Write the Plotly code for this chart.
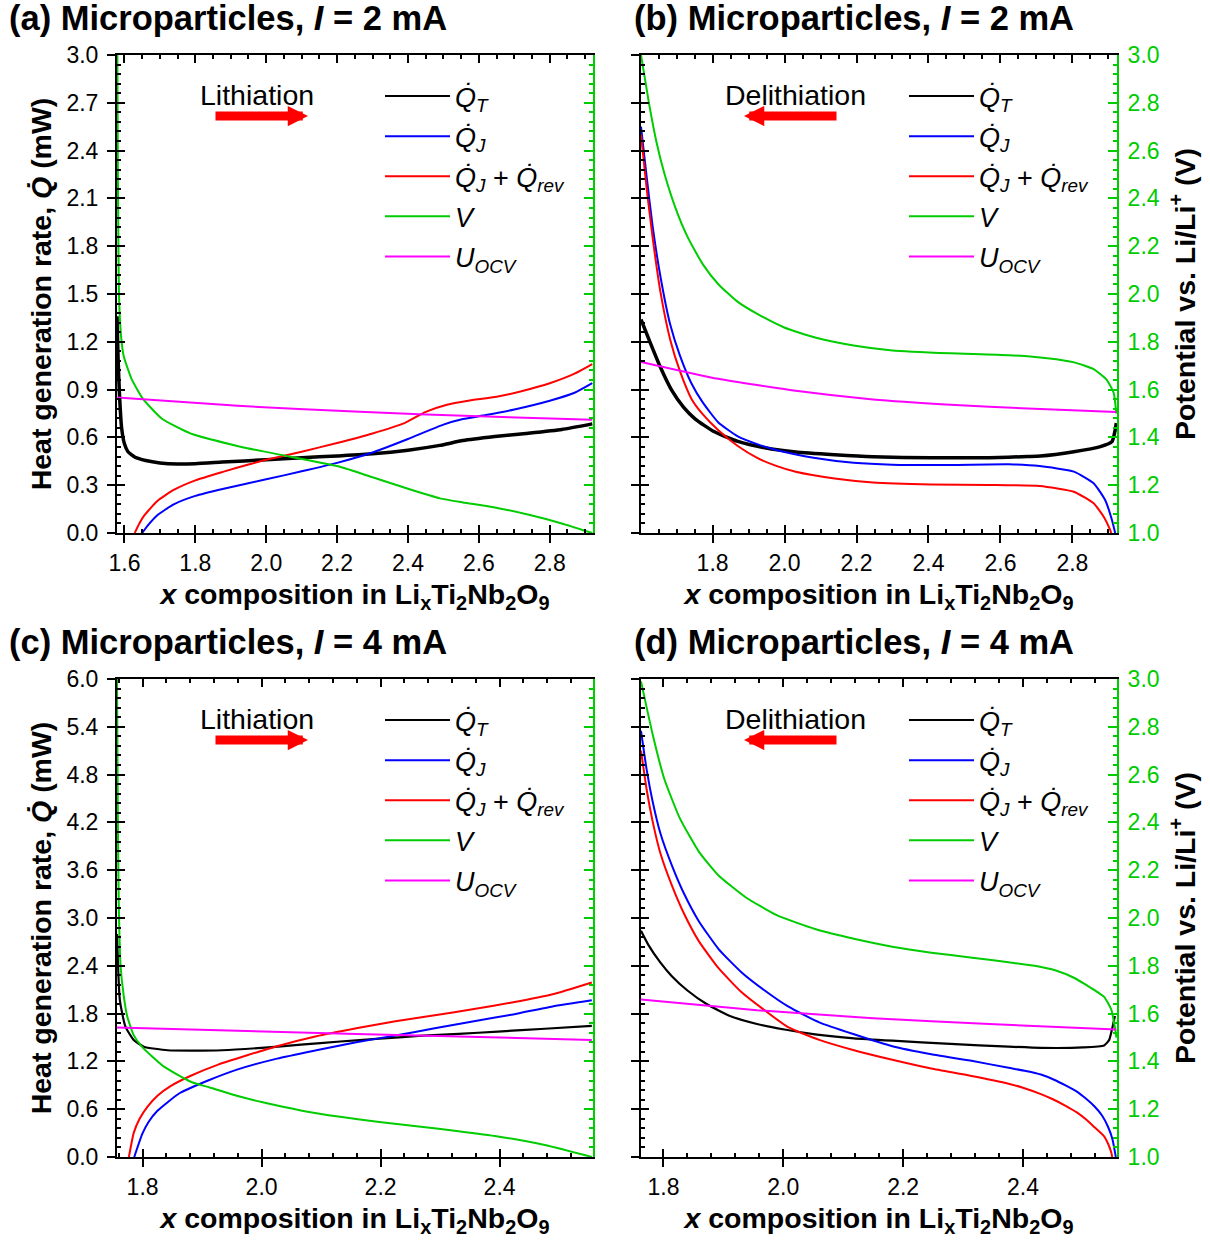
import plotly.graph_objects as go

FONT = "Liberation Sans, Arial, sans-serif"
GREEN = "#00cc00"
W, H = 1210, 1243

# ---------------- panel (a): lithiation, I = 2 mA ----------------
a_x_qt = [1.579, 1.582, 1.586, 1.592, 1.600, 1.610, 1.630, 1.660, 1.700, 1.750, 1.800, 1.876,
          2.000, 2.100, 2.200, 2.300, 2.400, 2.490, 2.555, 2.645, 2.733, 2.834, 2.920]
a_qt = [1.36, 1.10, 0.87, 0.66, 0.56, 0.51, 0.475, 0.455, 0.44, 0.433, 0.435, 0.445,
        0.46, 0.472, 0.484, 0.497, 0.52, 0.55, 0.58, 0.605, 0.625, 0.65, 0.685]
a_x_qj = [1.650, 1.665, 1.692, 1.739, 1.800, 1.880, 2.000, 2.100, 2.200, 2.300, 2.400, 2.500,
          2.555, 2.620, 2.700, 2.800, 2.870, 2.920]
a_qj = [0.0, 0.045, 0.11, 0.18, 0.233, 0.278, 0.337, 0.387, 0.44, 0.505, 0.59, 0.68,
        0.715, 0.74, 0.775, 0.83, 0.88, 0.94]
a_x_qr = [1.629, 1.642, 1.656, 1.692, 1.739, 1.800, 1.880, 1.950, 2.000, 2.100, 2.200, 2.300,
          2.390, 2.450, 2.510, 2.570, 2.650, 2.720, 2.800, 2.870, 2.920]
a_qr = [0.0, 0.06, 0.11, 0.20, 0.27, 0.33, 0.385, 0.43, 0.46, 0.51, 0.565, 0.625,
        0.69, 0.76, 0.805, 0.83, 0.855, 0.89, 0.94, 1.0, 1.06]
a_x_v = [1.580, 1.5815, 1.583, 1.5845, 1.587, 1.592, 1.598, 1.620, 1.653, 1.706, 1.786, 1.927,
         2.068, 2.208, 2.300, 2.400, 2.490, 2.555, 2.645, 2.744, 2.834, 2.920]
a_v = [3.0, 2.5, 2.2, 2.0, 1.9, 1.8, 1.74, 1.645, 1.56, 1.478, 1.417, 1.361,
       1.319, 1.277, 1.233, 1.185, 1.145, 1.128, 1.107, 1.075, 1.04, 1.0]
a_x_u = [1.580, 1.920, 2.264, 2.600, 2.920]
a_u = [1.567, 1.532, 1.507, 1.488, 1.474]

# ---------------- panel (b): delithiation, I = 2 mA ----------------
b_x_qt = [1.601, 1.623, 1.655, 1.687, 1.719, 1.752, 1.805, 1.870, 1.945, 2.031, 2.139, 2.246,
          2.408, 2.569, 2.676, 2.711, 2.804, 2.878, 2.910, 2.919, 2.922]
b_qt = [1.34, 1.215, 1.04, 0.893, 0.79, 0.715, 0.635, 0.575, 0.535, 0.508, 0.491, 0.478,
        0.472, 0.472, 0.48, 0.483, 0.51, 0.542, 0.573, 0.647, 0.69]
b_x_qj = [1.601, 1.617, 1.633, 1.655, 1.682, 1.709, 1.741, 1.773, 1.816, 1.870, 1.924, 1.977,
          2.085, 2.192, 2.300, 2.461, 2.623, 2.709, 2.804, 2.859, 2.891, 2.910, 2.919]
b_qj = [2.55, 2.23, 1.93, 1.61, 1.31, 1.115, 0.94, 0.818, 0.694, 0.607, 0.558, 0.521,
        0.471, 0.441, 0.429, 0.427, 0.431, 0.42, 0.385, 0.312, 0.207, 0.082, 0.0]
b_x_qr = [1.601, 1.617, 1.633, 1.655, 1.682, 1.709, 1.741, 1.773, 1.816, 1.870, 1.924, 1.977,
          2.031, 2.139, 2.246, 2.408, 2.569, 2.709, 2.804, 2.859, 2.887, 2.905, 2.908]
b_qr = [2.50, 2.157, 1.86, 1.513, 1.215, 1.017, 0.843, 0.744, 0.645, 0.546, 0.471, 0.421,
        0.384, 0.342, 0.317, 0.305, 0.302, 0.295, 0.259, 0.186, 0.102, 0.019, 0.0]
b_x_v = [1.601, 1.623, 1.644, 1.666, 1.698, 1.730, 1.773, 1.816, 1.870, 1.924, 1.999, 2.085,
         2.192, 2.300, 2.461, 2.623, 2.730, 2.805, 2.859, 2.896, 2.915, 2.922]
b_v = [3.0, 2.80, 2.636, 2.504, 2.355, 2.24, 2.124, 2.041, 1.967, 1.917, 1.86, 1.818,
       1.785, 1.764, 1.752, 1.744, 1.731, 1.714, 1.686, 1.64, 1.585, 1.50]
b_x_u = [1.601, 1.816, 2.031, 2.246, 2.461, 2.676, 2.922]
b_u = [1.716, 1.645, 1.595, 1.559, 1.537, 1.521, 1.506]

# ---------------- panel (c): lithiation, I = 4 mA ----------------
c_x_qt = [1.757, 1.7618, 1.771, 1.785, 1.802, 1.842, 1.881, 1.934, 2.000, 2.066, 2.132, 2.198,
          2.264, 2.331, 2.397, 2.476, 2.555]
c_qt = [2.8, 1.97, 1.64, 1.47, 1.385, 1.34, 1.335, 1.34, 1.37, 1.41, 1.45, 1.485,
        1.52, 1.545, 1.575, 1.61, 1.645]
c_x_qj = [1.786, 1.7995, 1.810, 1.825, 1.862, 1.910, 1.960, 2.026, 2.092, 2.159, 2.225, 2.291,
          2.357, 2.423, 2.489, 2.555]
c_qj = [0.0, 0.29, 0.44, 0.58, 0.80, 0.96, 1.10, 1.235, 1.34, 1.44, 1.525, 1.615,
        1.705, 1.79, 1.89, 1.967]
c_x_qr = [1.777, 1.785, 1.795, 1.808, 1.825, 1.847, 1.881, 1.927, 1.973, 2.026, 2.092, 2.159,
          2.225, 2.291, 2.357, 2.423, 2.489, 2.555]
c_qr = [0.0, 0.30, 0.48, 0.63, 0.77, 0.89, 1.02, 1.16, 1.27, 1.39, 1.515, 1.615,
        1.705, 1.778, 1.858, 1.942, 2.042, 2.191]
c_x_v = [1.757, 1.7585, 1.760, 1.763, 1.768, 1.774, 1.785, 1.7995, 1.836, 1.881, 1.914, 1.960,
         2.000, 2.066, 2.132, 2.198, 2.264, 2.331, 2.397, 2.476, 2.555]
c_v = [3.0, 2.4, 2.05, 1.80, 1.68, 1.59, 1.51, 1.46, 1.378, 1.315, 1.29, 1.255,
       1.23, 1.195, 1.168, 1.146, 1.128, 1.108, 1.086, 1.05, 1.0]
c_x_u = [1.757, 2.159, 2.555]
c_u = [1.542, 1.515, 1.49]

# ---------------- panel (d): delithiation, I = 4 mA ----------------
d_x_qt = [1.7625, 1.775, 1.795, 1.814, 1.840, 1.872, 1.911, 1.956, 2.002, 2.053, 2.118, 2.182,
          2.279, 2.376, 2.430, 2.500, 2.5355, 2.544, 2.5495, 2.5535]
d_qt = [2.84, 2.66, 2.44, 2.27, 2.09, 1.92, 1.77, 1.67, 1.60, 1.54, 1.49, 1.46,
        1.42, 1.385, 1.37, 1.375, 1.40, 1.47, 1.63, 1.77]
d_x_qj = [1.7625, 1.772, 1.782, 1.795, 1.814, 1.834, 1.859, 1.892, 1.930, 1.969, 2.008, 2.060,
          2.118, 2.182, 2.247, 2.312, 2.376, 2.405, 2.430, 2.452, 2.472, 2.490, 2.5055, 2.520,
          2.532, 2.542, 2.5495, 2.555]
d_qj = [5.35, 4.86, 4.46, 4.06, 3.66, 3.31, 2.96, 2.61, 2.32, 2.09, 1.89, 1.69,
        1.54, 1.39, 1.29, 1.21, 1.12, 1.08, 1.035, 0.97, 0.895, 0.82, 0.73, 0.63,
        0.52, 0.38, 0.22, 0.0]
d_x_qr = [1.7625, 1.772, 1.782, 1.795, 1.814, 1.834, 1.859, 1.892, 1.930, 1.969, 2.008, 2.060,
          2.118, 2.182, 2.247, 2.312, 2.376, 2.400, 2.430, 2.450, 2.472, 2.490, 2.5055, 2.520,
          2.5355, 2.5425, 2.5477, 2.549]
d_qr = [5.1, 4.61, 4.21, 3.81, 3.41, 3.06, 2.71, 2.37, 2.07, 1.84, 1.63, 1.47,
        1.34, 1.22, 1.11, 1.02, 0.92, 0.87, 0.79, 0.725, 0.64, 0.56, 0.47, 0.37,
        0.26, 0.16, 0.05, 0.0]
d_x_v = [1.7625, 1.782, 1.801, 1.827, 1.859, 1.892, 1.937, 1.989, 2.053, 2.118, 2.182, 2.247,
         2.312, 2.376, 2.420, 2.455, 2.485, 2.5055, 2.5355, 2.5477, 2.5533, 2.556]
d_v = [2.99, 2.768, 2.585, 2.419, 2.278, 2.178, 2.087, 2.012, 1.954, 1.913, 1.88, 1.855,
       1.835, 1.815, 1.80, 1.78, 1.75, 1.72, 1.67, 1.615, 1.545, 1.50]
d_x_u = [1.7625, 1.956, 2.150, 2.344, 2.556]
d_u = [1.659, 1.614, 1.581, 1.556, 1.533]

series_labels = [
    "<i>Q\u0307</i><sub><i>T</i></sub>",
    "<i>Q\u0307</i><sub><i>J</i></sub>",
    "<i>Q\u0307</i><sub><i>J</i></sub> + <i>Q\u0307</i><sub><i>rev</i></sub>",
    "<i>V</i>",
    "<i>U</i><sub><i>OCV</i></sub>",
]
series_colors = ["#000000", "#0000ff", "#ff0000", GREEN, "#ff00ff"]
x_title = "<b><i>x</i> composition in Li<sub>x</sub>Ti<sub>2</sub>Nb<sub>2</sub>O<sub>9</sub></b>"
q_title = "<b>Heat generation rate, <i>Q\u0307</i> (mW)</b>"
v_title = "<b>Potential vs. Li/Li<sup>+</sup> (V)</b>"

panels = [
    dict(tag="(a)", cur="2", xr=[1.579, 2.922], qmax=3.0, qdt=0.3, qminor=0.06, xminor=0.05,
         col=0, row=0, dirn="Lithiation", lith=True, qtw=3.5,
         data=[(a_x_qt, a_qt), (a_x_qj, a_qj), (a_x_qr, a_qr), (a_x_v, a_v), (a_x_u, a_u)]),
    dict(tag="(b)", cur="2", xr=[1.601, 2.924], qmax=3.0, qdt=0.3, qminor=0.06, xminor=0.05,
         col=1, row=0, dirn="Delithiation", lith=False, qtw=3.5,
         data=[(b_x_qt, b_qt), (b_x_qj, b_qj), (b_x_qr, b_qr), (b_x_v, b_v), (b_x_u, b_u)]),
    dict(tag="(c)", cur="4", xr=[1.757, 2.557], qmax=6.0, qdt=0.6, qminor=0.12, xminor=0.04,
         col=0, row=1, dirn="Lithiation", lith=True, qtw=2.2,
         data=[(c_x_qt, c_qt), (c_x_qj, c_qj), (c_x_qr, c_qr), (c_x_v, c_v), (c_x_u, c_u)]),
    dict(tag="(d)", cur="4", xr=[1.7625, 2.557], qmax=6.0, qdt=0.6, qminor=0.12, xminor=0.04,
         col=1, row=1, dirn="Delithiation", lith=False, qtw=2.2,
         data=[(d_x_qt, d_qt), (d_x_qj, d_qj), (d_x_qr, d_qr), (d_x_v, d_v), (d_x_u, d_u)]),
]

col_dom = [[117 / W, 593 / W], [641 / W, 1117 / W]]
row_dom = [[1 - 533 / H, 1 - 55 / H], [1 - 1157 / H, 1 - 679 / H]]
row_off = [0, 624]


def nm(kind, n):
    return f"{kind}axis" if n == 1 else f"{kind}axis{n}"


def rf(kind, n):
    return kind if n == 1 else f"{kind}{n}"


fig = go.Figure()
layout = dict(width=W, height=H, margin=dict(l=0, r=0, t=0, b=0, autoexpand=False),
              template="none", plot_bgcolor="white", paper_bgcolor="white",
              font=dict(family=FONT, size=23, color="black"), annotations=[])

tickfont = dict(family=FONT, size=23, color="black")

for i, p in enumerate(panels):
    xm, xo = 2 * i + 1, 2 * i + 2
    yq, yqo, yv = 3 * i + 1, 3 * i + 2, 3 * i + 3
    c, r = p["col"], p["row"]
    left_lab = c == 0
    leg = "legend" if i == 0 else f"legend{i + 1}"

    for k, ((xs, ys), lab, colr) in enumerate(zip(p["data"], series_labels, series_colors)):
        on_v = k >= 3
        xa, ya = rf("x", xm), rf("y", yv if on_v else yq)
        # the data curve
        fig.add_trace(go.Scatter(
            x=xs, y=ys, mode="lines", showlegend=False,
            line=dict(color=colr, width=p["qtw"] if k == 0 else 2, shape="spline", smoothing=0.5),
            xaxis=xa, yaxis=ya, hoverinfo="skip"))
        # legend entry (thin line, no data)
        fig.add_trace(go.Scatter(
            x=[None], y=[None], mode="lines", name=lab, line=dict(color=colr, width=2),
            xaxis=xa, yaxis=ya, legend=leg, legendgroup=f"g{i}{k}", hoverinfo="skip"))
    # empty traces that only register the tick-overlay axes
    fig.add_trace(go.Scatter(x=[None], y=[None], xaxis=rf("x", xo), yaxis=rf("y", yq),
                             showlegend=False, hoverinfo="skip"))
    fig.add_trace(go.Scatter(x=[None], y=[None], xaxis=rf("x", xm), yaxis=rf("y", yqo),
                             showlegend=False, hoverinfo="skip"))

    base_x = dict(range=p["xr"], domain=col_dom[c], showgrid=False, zeroline=False,
                  dtick=0.2, tick0=1.0, tickformat=".1f", automargin=False)
    layout[nm("x", xm)] = dict(base_x, anchor=rf("y", yq), ticks="outside", ticklen=8, tickwidth=2,
                               tickcolor="black", showline=True, linecolor="black", linewidth=2,
                               tickfont=tickfont,
                               title=dict(text=x_title, font=dict(family=FONT, size=28.5), standoff=9))
    layout[nm("x", xo)] = dict(base_x, anchor=rf("y", yq), overlaying=rf("x", xm), side="bottom",
                               ticks="inside", ticklen=8, tickwidth=2, tickcolor="black",
                               showticklabels=False, showline=True, linecolor="black", linewidth=2,
                               mirror="allticks",
                               minor=dict(ticks="inside", ticklen=4, tickwidth=1.5, dtick=p["xminor"],
                                          tickcolor="black", showgrid=False))
    base_q = dict(range=[0, p["qmax"]], domain=row_dom[r], showgrid=False, zeroline=False,
                  dtick=p["qdt"], tick0=0, tickformat=".1f", automargin=False)
    qax = dict(base_q, anchor=rf("x", xm), side="left", ticks="outside", ticklen=8, tickwidth=2,
               tickcolor="black", showline=True, linecolor="black", linewidth=2,
               showticklabels=left_lab, tickfont=tickfont, ticklabelstandoff=4)
    if left_lab:
        qax["title"] = dict(text=q_title, font=dict(family=FONT, size=28.5), standoff=6)
    layout[nm("y", yq)] = qax
    layout[nm("y", yqo)] = dict(base_q, anchor=rf("x", xm), overlaying=rf("y", yq), side="left",
                                ticks="inside", ticklen=8, tickwidth=2, tickcolor="black",
                                showticklabels=False, showline=False,
                                minor=dict(ticks="inside", ticklen=4, tickwidth=1.5, dtick=p["qminor"],
                                           tickcolor="black", showgrid=False))
    vax = dict(range=[1.0, 3.0], domain=row_dom[r], anchor=rf("x", xm), overlaying=rf("y", yq),
               side="right", showgrid=False, zeroline=False, dtick=0.2, tick0=1.0, tickformat=".1f",
               ticks="inside", ticklen=9, tickwidth=2, tickcolor=GREEN, automargin=False,
               showline=True, linecolor=GREEN, linewidth=2,
               showticklabels=not left_lab, tickfont=dict(family=FONT, size=23, color=GREEN),
               ticklabelstandoff=4,
               minor=dict(ticks="inside", ticklen=4, tickwidth=1.5, dtick=0.04,
                          tickcolor=GREEN, showgrid=False))
    if not left_lab:
        vax["title"] = dict(text=v_title, font=dict(family=FONT, size=28.5, color="black"), standoff=16)
    layout[nm("y", yv)] = vax

    lx = 380 if c == 0 else 904
    layout[leg] = dict(x=lx / W, y=1 - (72 + row_off[r]) / H, xanchor="left", yanchor="top",
                       xref="paper", yref="paper", bgcolor="rgba(0,0,0,0)",
                       font=dict(family=FONT, size=27, color="black"),
                       traceorder="grouped", tracegroupgap=2, itemwidth=65)

    # panel title
    layout["annotations"].append(dict(
        text=f"<b>{p['tag']} Microparticles, <i>I</i> = {p['cur']} mA</b>",
        x=(7 if c == 0 else 632) / W, y=1 - (18 + row_off[r]) / H, xref="paper", yref="paper",
        xanchor="left", yanchor="middle", showarrow=False, font=dict(family=FONT, size=34.5)))
    # direction label
    layout["annotations"].append(dict(
        text=p["dirn"], x=(257 if c == 0 else 795) / W, y=1 - (95 + row_off[r]) / H,
        xref="paper", yref="paper", xanchor="center", yanchor="middle", showarrow=False,
        font=dict(family=FONT, size=28.5)))
    # direction arrow
    if p["lith"]:
        hx, ax = 308, -94
    else:
        hx, ax = 744, 94
    layout["annotations"].append(dict(
        text="", x=hx / W, y=1 - (116 + row_off[r]) / H, xref="paper", yref="paper",
        ax=ax, ay=0, axref="pixel", ayref="pixel", showarrow=True, arrowhead=2,
        arrowsize=0.45, arrowwidth=9, arrowcolor="#ff0000", standoff=0))

fig.update_layout(**layout)
fig.write_html("out.html")
